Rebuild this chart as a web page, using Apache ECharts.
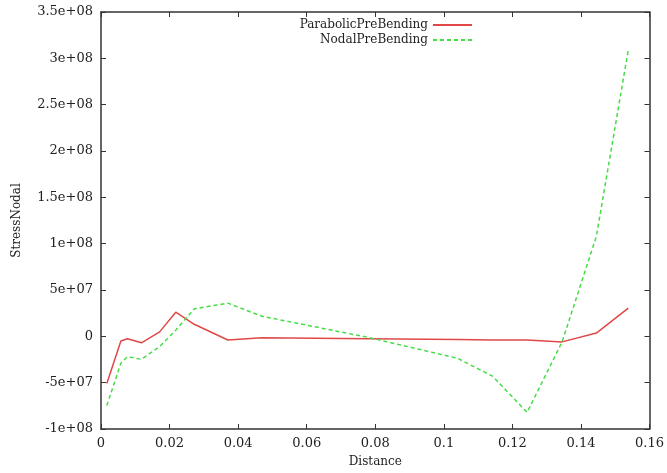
<!DOCTYPE html>
<html>
<head>
<meta charset="utf-8">
<script src="https://cdn.jsdelivr.net/npm/echarts@6/dist/echarts.min.js"></script>
<style>
  html, body { margin: 0; padding: 0; background: #fff; }
  #chart { width: 667px; height: 473px; }
</style>
</head>
<body>
<div id="chart"></div>
<script>
// Distance along the path (m) at each sampled node
const distance = [0.0017, 0.0058, 0.0077, 0.0118, 0.0171, 0.0218, 0.0272, 0.037, 0.047, 0.078, 0.104, 0.1142, 0.1243, 0.1345, 0.1445, 0.1538];
// Nodal stress for the two pre-bending models
const parabolicPreBending = [-5.1e7, -5.0e6, -2.7e6, -7.0e6, 4.8e6, 2.6e7, 1.3e7, -4.0e6, -1.5e6, -2.5e6, -3.5e6, -4.0e6, -4.0e6, -6.0e6, 3.5e6, 3.04e7];
const nodalPreBending = [-7.46e7, -2.9e7, -2.2e7, -2.48e7, -1.1e7, 6.6e6, 2.97e7, 3.58e7, 2.16e7, -1.2e6, -2.37e7, -4.3e7, -8.2e7, -6.0e6, 1.08e8, 3.09e8];

const seriesNames = ['ParabolicPreBending', 'NodalPreBending'];
const xTickLabels = ['0', '0.02', '0.04', '0.06', '0.08', '0.1', '0.12', '0.14', '0.16'];
const yTickLabels = ['-1e+08', '-5e+07', '0', '5e+07', '1e+08', '1.5e+08', '2e+08', '2.5e+08', '3e+08', '3.5e+08'];

const pairs = (xs, ys) => xs.map((x, i) => [x, ys[i]]);

const FONT = 'DejaVu Serif';
const INK = '#222';
const AXIS = '#333';

const axisLine = { show: true, onZero: false, lineStyle: { color: AXIS, width: 1.5 } };
const inwardTick = { show: true, inside: true, length: 5, lineStyle: { color: AXIS, width: 1 } };
const tickText = { color: INK, fontFamily: FONT, fontSize: 13 };
const nameText = { color: INK, fontFamily: FONT, fontSize: 12 };

// One key entry per legend box, text right-aligned against its line sample
const legendBox = (name, top) => ({
  data: [name],
  right: 189, top: top,
  align: 'right',
  itemWidth: 39, itemHeight: 12, itemGap: 0,
  itemStyle: { opacity: 0 },
  textStyle: { color: INK, fontFamily: FONT, fontSize: 12 }
});

const chart = echarts.init(document.getElementById('chart'), null, { renderer: 'canvas' });

chart.setOption({
  animation: false,
  backgroundColor: '#fff',
  grid: { left: 101, right: 14, top: 12, bottom: 40, containLabel: false },
  legend: [legendBox(seriesNames[0], 14), legendBox(seriesNames[1], 29)],
  xAxis: [
    {
      type: 'value', position: 'bottom',
      min: 0, max: 0.16, interval: 0.02,
      name: 'Distance', nameLocation: 'middle', nameGap: 27,
      nameTextStyle: nameText,
      axisLine: axisLine, axisTick: inwardTick,
      axisLabel: Object.assign({}, tickText, { margin: 8, formatter: (v, i) => xTickLabels[i] }),
      splitLine: { show: false }
    },
    {
      type: 'value', position: 'top',
      min: 0, max: 0.16, interval: 0.02,
      axisLine: axisLine, axisTick: inwardTick,
      axisLabel: { show: false }, splitLine: { show: false }
    }
  ],
  yAxis: [
    {
      type: 'value', position: 'left',
      min: -1e8, max: 3.5e8, interval: 5e7,
      name: 'StressNodal', nameLocation: 'middle', nameGap: 78, nameRotate: 90,
      nameTextStyle: nameText,
      axisLine: axisLine, axisTick: inwardTick,
      axisLabel: Object.assign({}, tickText, { margin: 8, formatter: (v, i) => yTickLabels[i] }),
      splitLine: { show: false }
    },
    {
      type: 'value', position: 'right',
      min: -1e8, max: 3.5e8, interval: 5e7,
      axisLine: axisLine, axisTick: inwardTick,
      axisLabel: { show: false }, splitLine: { show: false }
    }
  ],
  series: [
    {
      name: seriesNames[0], type: 'line',
      data: pairs(distance, parabolicPreBending),
      showSymbol: false, symbol: 'none',
      color: '#e04848',
      lineStyle: { color: '#e04848', width: 1.5 },
      xAxisIndex: 0, yAxisIndex: 0
    },
    {
      name: seriesNames[1], type: 'line',
      data: pairs(distance, nodalPreBending),
      showSymbol: false, symbol: 'none',
      color: '#44dd44',
      lineStyle: { color: '#44dd44', width: 1.5, type: [4, 3] },
      xAxisIndex: 0, yAxisIndex: 0
    }
  ]
});
</script>
</body>
</html>
